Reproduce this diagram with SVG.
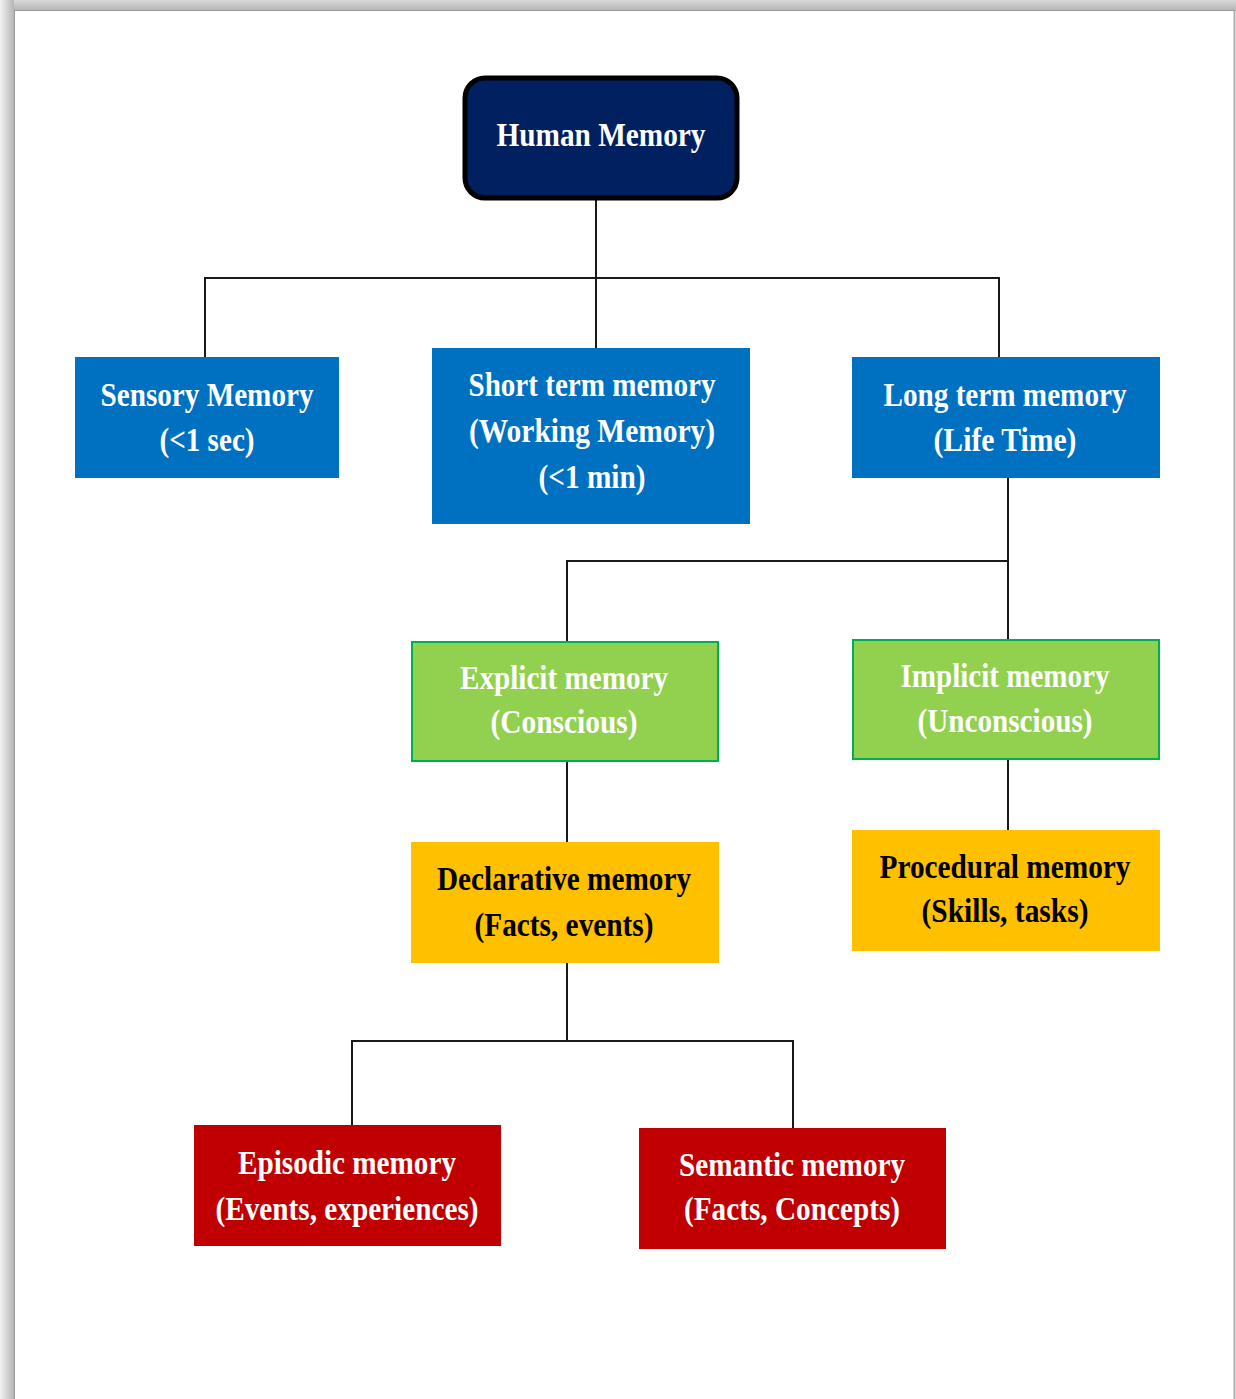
<svg xmlns="http://www.w3.org/2000/svg" width="1236" height="1399" viewBox="0 0 1236 1399">
<defs>
<linearGradient id="lg" x1="0" y1="0" x2="1" y2="0"><stop offset="0" stop-color="#f2f2f2"/><stop offset="1" stop-color="#b5b5b5"/></linearGradient>
<linearGradient id="tg" x1="0" y1="0" x2="0" y2="1"><stop offset="0" stop-color="#dadada"/><stop offset="1" stop-color="#b5b5b5"/></linearGradient>
</defs>
<style>
.t{font-family:"Liberation Serif","Times New Roman",serif;font-weight:bold;font-size:34px;text-anchor:middle}
.w{fill:#ffffff}
.k{fill:#000000}
.c{stroke:#1a1a1a;stroke-width:2;fill:none}
.blue{fill:#0070C0}
.green{fill:#92D050;stroke:#00B050;stroke-width:2}
.amber{fill:#FFC000}
.red{fill:#C00000}
</style>
<rect x="0" y="0" width="1236" height="1399" fill="#ffffff"/>
<rect x="0" y="0" width="1236" height="10" fill="url(#tg)"/>
<rect x="0" y="0" width="14" height="1399" fill="url(#lg)"/>
<line x1="14" y1="10.5" x2="1236" y2="10.5" stroke="#999" stroke-width="1"/>
<line x1="14.5" y1="10" x2="14.5" y2="1399" stroke="#999" stroke-width="1"/>
<line x1="1234.5" y1="10" x2="1234.5" y2="1399" stroke="#b0b0b0" stroke-width="2"/>

<g id="connectors">
<line class="c" x1="596" y1="199" x2="596" y2="348"/>
<line class="c" x1="205" y1="278" x2="999" y2="278"/>
<line class="c" x1="205" y1="277" x2="205" y2="357"/>
<line class="c" x1="999" y1="277" x2="999" y2="357"/>
<line class="c" x1="1008" y1="478" x2="1008" y2="639"/>
<line class="c" x1="566" y1="561" x2="1008" y2="561"/>
<line class="c" x1="567" y1="560" x2="567" y2="641"/>
<line class="c" x1="567" y1="762" x2="567" y2="842"/>
<line class="c" x1="1008" y1="760" x2="1008" y2="830"/>
<line class="c" x1="567" y1="963" x2="567" y2="1041"/>
<line class="c" x1="351" y1="1041" x2="794" y2="1041"/>
<line class="c" x1="352" y1="1040" x2="352" y2="1125"/>
<line class="c" x1="793" y1="1040" x2="793" y2="1128"/>
</g>

<g id="human-memory">
<rect x="465" y="78" width="272" height="120" rx="20" fill="#002060" stroke="#000" stroke-width="5"/>
<text class="t w" x="601" y="146" textLength="209" lengthAdjust="spacingAndGlyphs">Human Memory</text>
</g>

<g id="sensory-memory">
<rect class="blue" x="75" y="357" width="264" height="121"/>
<text class="t w" x="207" y="406" textLength="213" lengthAdjust="spacingAndGlyphs">Sensory Memory</text>
<text class="t w" x="207" y="451" textLength="95" lengthAdjust="spacingAndGlyphs">(&lt;1 sec)</text>
</g>

<g id="short-term-memory">
<rect class="blue" x="432" y="348" width="318" height="176"/>
<text class="t w" x="592" y="396" textLength="247" lengthAdjust="spacingAndGlyphs">Short term memory</text>
<text class="t w" x="592" y="442" textLength="246" lengthAdjust="spacingAndGlyphs">(Working Memory)</text>
<text class="t w" x="592" y="488" textLength="107" lengthAdjust="spacingAndGlyphs">(&lt;1 min)</text>
</g>

<g id="long-term-memory">
<rect class="blue" x="852" y="357" width="308" height="121"/>
<text class="t w" x="1005" y="406" textLength="243" lengthAdjust="spacingAndGlyphs">Long term memory</text>
<text class="t w" x="1005" y="451" textLength="143" lengthAdjust="spacingAndGlyphs">(Life Time)</text>
</g>

<g id="explicit-memory">
<rect class="green" x="412" y="642" width="306" height="119"/>
<text class="t w" x="564" y="689" textLength="208" lengthAdjust="spacingAndGlyphs">Explicit memory</text>
<text class="t w" x="564" y="733" textLength="147" lengthAdjust="spacingAndGlyphs">(Conscious)</text>
</g>

<g id="implicit-memory">
<rect class="green" x="853" y="640" width="306" height="119"/>
<text class="t w" x="1005" y="687" textLength="209" lengthAdjust="spacingAndGlyphs">Implicit memory</text>
<text class="t w" x="1005" y="732" textLength="175" lengthAdjust="spacingAndGlyphs">(Unconscious)</text>
</g>

<g id="declarative-memory">
<rect class="amber" x="411" y="842" width="308" height="121"/>
<text class="t k" x="564" y="890" textLength="254" lengthAdjust="spacingAndGlyphs">Declarative memory</text>
<text class="t k" x="564" y="936" textLength="179" lengthAdjust="spacingAndGlyphs">(Facts, events)</text>
</g>

<g id="procedural-memory">
<rect class="amber" x="852" y="830" width="308" height="121"/>
<text class="t k" x="1005" y="878" textLength="251" lengthAdjust="spacingAndGlyphs">Procedural memory</text>
<text class="t k" x="1005" y="922" textLength="167" lengthAdjust="spacingAndGlyphs">(Skills, tasks)</text>
</g>

<g id="episodic-memory">
<rect class="red" x="194" y="1125" width="307" height="121"/>
<text class="t w" x="347" y="1174" textLength="218" lengthAdjust="spacingAndGlyphs">Episodic memory</text>
<text class="t w" x="347" y="1220" textLength="263" lengthAdjust="spacingAndGlyphs">(Events, experiences)</text>
</g>

<g id="semantic-memory">
<rect class="red" x="639" y="1128" width="307" height="121"/>
<text class="t w" x="792" y="1176" textLength="226" lengthAdjust="spacingAndGlyphs">Semantic memory</text>
<text class="t w" x="792" y="1220" textLength="216" lengthAdjust="spacingAndGlyphs">(Facts, Concepts)</text>
</g>
</svg>
